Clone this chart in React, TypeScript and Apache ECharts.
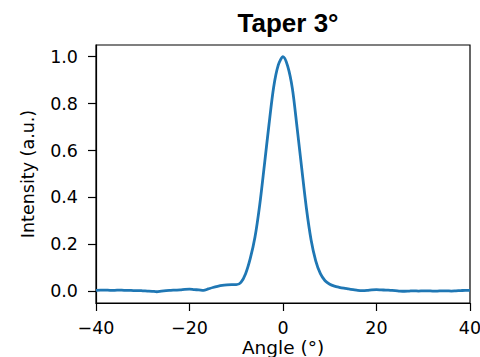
import React, { useEffect, useRef } from "react";
import * as echarts from "echarts";

const angles: number[] = [
  -40, -39, -38, -37, -36, -35, -34, -33, -32, -31, -30, -29, -28, -27, -26, -25, -24, -23, -22, -21,
  -20, -19, -18, -17, -16, -15, -14, -13, -12, -11, -10, -9, -8, -7, -6, -5, -4, -3, -2, -1,
  0, 1, 2, 3, 4, 5, 6, 7, 8, 9, 10, 11, 12, 13, 14, 15, 16, 17, 18, 19,
  20, 21, 22, 23, 24, 25, 26, 27, 28, 29, 30, 31, 32, 33, 34, 35, 36, 37, 38, 39, 40,
];

const intensity: number[] = [
  0.004, 0.005, 0.005, 0.004, 0.004, 0.005, 0.004, 0.004, 0.003, 0.003, 0.002, 0.001, 0.0, -0.002, 0.001, 0.003, 0.004, 0.005, 0.006, 0.008,
  0.009, 0.007, 0.006, 0.004, 0.01, 0.016, 0.021, 0.025, 0.027, 0.028, 0.028, 0.038, 0.075, 0.14, 0.23, 0.365, 0.535, 0.71, 0.87, 0.965,
  1.0, 0.96, 0.865, 0.7, 0.525, 0.355, 0.22, 0.13, 0.075, 0.045, 0.03, 0.022, 0.017, 0.013, 0.01, 0.007, 0.004, 0.003, 0.004, 0.006,
  0.007, 0.006, 0.005, 0.004, 0.003, 0.001, 0.0, 0.001, 0.002, 0.001, 0.002, 0.002, 0.001, 0.001, 0.002, 0.002, 0.001, 0.002, 0.003, 0.004, 0.004,
];

const yTicks: number[] = [0, 0.2, 0.4, 0.6, 0.8, 1.0];

const FONT = "DejaVu Sans";

export default function App() {
  const ref = useRef<HTMLDivElement>(null);
  useEffect(() => {
    if (!ref.current) return;
    const chart = echarts.init(ref.current, null, { renderer: "svg" });
    chart.setOption({
      animation: false,
      backgroundColor: "#ffffff",
      title: {
        text: "Taper 3°",
        left: 283,
        top: 5,
        textAlign: "center",
        textStyle: { fontFamily: "Liberation Sans", fontWeight: "bold", fontSize: 26, color: "#000" },
      },
      grid: {
        left: 96,
        right: 10,
        top: 45,
        bottom: 54,
        containLabel: false,
        outerBoundsMode: "none",
        show: true,
        borderColor: "#000",
        borderWidth: 1.2,
        backgroundColor: "transparent",
      },
      xAxis: {
        type: "value",
        min: -40,
        max: 40,
        interval: 20,
        name: "Angle (°)",
        nameLocation: "middle",
        nameGap: 35,
        nameMoveOverlap: false,
        nameTextStyle: { fontFamily: FONT, fontSize: 18.5, lineHeight: 19, color: "#000" },
        axisLine: { show: true, onZero: false, lineStyle: { color: "#000", width: 1.2 } },
        axisTick: { show: true, inside: false, length: 8, lineStyle: { color: "#000", width: 1.2 } },
        axisLabel: {
          fontFamily: FONT,
          fontSize: 17.5,
          lineHeight: 18,
          color: "#000",
          margin: 16,
          hideOverlap: false,
          formatter: (v: number) => String(v).replace("-", "\u2212"),
        },
        splitLine: { show: false },
      },
      yAxis: {
        type: "value",
        min: -0.05,
        max: 1.05,
        name: "Intensity (a.u.)",
        nameLocation: "middle",
        nameGap: 59,
        nameMoveOverlap: false,
        nameTextStyle: { fontFamily: FONT, fontSize: 17.5, color: "#000" },
        axisLine: { show: true, onZero: false, lineStyle: { color: "#000", width: 1.2 } },
        axisTick: { show: true, inside: false, length: 8, customValues: yTicks, lineStyle: { color: "#000", width: 1.2 } },
        axisLabel: {
          fontFamily: FONT,
          fontSize: 17.5,
          color: "#000",
          margin: 18,
          customValues: yTicks,
          formatter: (v: number) => v.toFixed(1),
        },
        splitLine: { show: false },
      },
      series: [
        {
          type: "line",
          data: angles.map((a, i) => [a, intensity[i]]),
          smooth: 0.3,
          showSymbol: false,
          lineStyle: { color: "#1f77b4", width: 2.8 },
          clip: true,
        },
      ],
    });
    return () => chart.dispose();
  }, []);
  return <div ref={ref} style={{ width: 480, height: 357, position: "absolute", left: 0, top: 0 }} />;
}
